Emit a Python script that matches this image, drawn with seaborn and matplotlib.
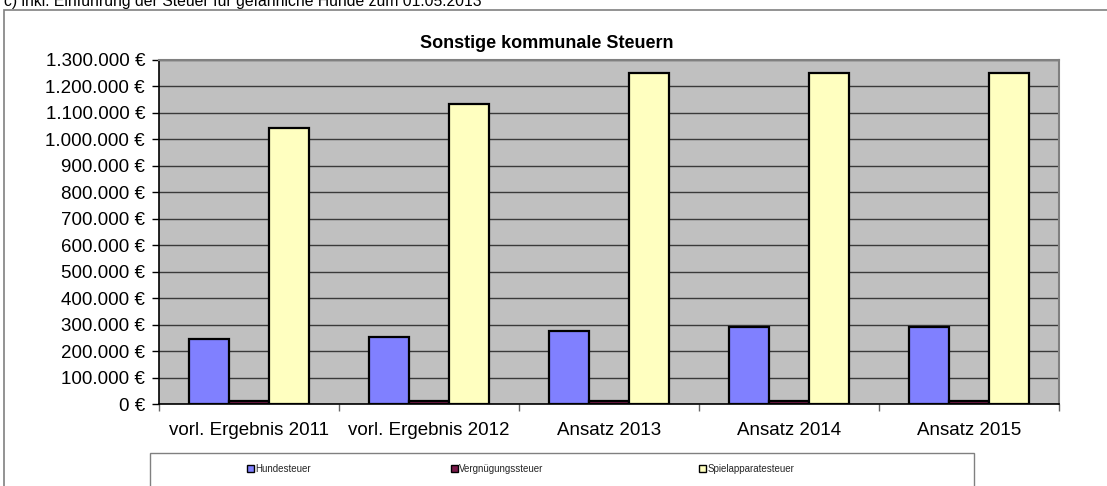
import matplotlib
matplotlib.use("Agg")
import matplotlib.pyplot as plt
from matplotlib.patches import Patch, Rectangle
from matplotlib.ticker import FuncFormatter, MultipleLocator, FixedLocator
import seaborn as sns
import pandas as pd
import numpy as np

# ---- data ----
categories = ["vorl. Ergebnis 2011", "vorl. Ergebnis 2012", "Ansatz 2013", "Ansatz 2014", "Ansatz 2015"]
series_names = ["Hundesteuer", "Vergnügungssteuer", "Spielapparatesteuer"]
hundesteuer = [245000, 252000, 275000, 290000, 290000]
vergnuegungssteuer = [10000, 10000, 10000, 10000, 10000]
spielapparatesteuer = [1042000, 1133000, 1250000, 1250000, 1250000]
colors = ["#8080FF", "#7A1A4A", "#FFFFC0"]
title = "Sonstige kommunale Steuern"
footnote = "c) inkl. Einführung der Steuer für gefährliche Hunde zum 01.05.2013"

df = pd.DataFrame({
    "Kategorie": categories * 3,
    "Steuer": [series_names[0]] * 5 + [series_names[1]] * 5 + [series_names[2]] * 5,
    "Wert": hundesteuer + vergnuegungssteuer + spielapparatesteuer,
})

sns.set_theme(style="white")
plt.rcParams["font.family"] = ["Liberation Sans", "DejaVu Sans"]

W, H = 1107, 486
fig = plt.figure(figsize=(W / 100, H / 100), dpi=100)
fig.patch.set_facecolor("white")

# plot area in pixel coords
L, R, T, B = 159, 1059, 60, 404
ax = fig.add_axes([L / W, (H - B) / H, (R - L) / W, (B - T) / H])
ax.set_facecolor("#C0C0C0")
ax.set_axisbelow(True)

sns.barplot(data=df, x="Kategorie", y="Wert", hue="Steuer", hue_order=series_names,
            order=categories, palette=colors, width=2 / 3, edgecolor="black",
            linewidth=1.6, saturation=1, ax=ax, legend=False)

ax.set_xlim(-0.5, len(categories) - 0.5)
ax.set_ylim(0, 1300000)
ax.yaxis.set_major_locator(MultipleLocator(100000))
ax.yaxis.set_major_formatter(FuncFormatter(lambda v, p: f"{int(round(v)):,} €".replace(",", ".")))
ax.grid(axis="y", color="#3a3a3a", linewidth=1)
ax.grid(axis="x", visible=False)
ax.set_xlabel("")
ax.set_ylabel("")

ax.xaxis.set_minor_locator(FixedLocator(np.arange(-0.5, len(categories), 1.0)))
ax.tick_params(axis="x", which="major", length=0, pad=13, labelsize=13.5, colors="black")
ax.tick_params(axis="x", which="minor", bottom=True, length=5, width=1, direction="out",
               color="#666666")
ax.tick_params(axis="y", which="major", length=5, width=1, direction="out", pad=5,
               labelsize=13.5, colors="black", left=True)
for lab in ax.get_xticklabels() + ax.get_yticklabels():
    lab.set_color("black")

for s in ["left", "bottom"]:
    ax.spines[s].set_visible(True)
    ax.spines[s].set_color("black")
    ax.spines[s].set_linewidth(1.2)
for s in ["top", "right"]:
    ax.spines[s].set_visible(True)
    ax.spines[s].set_color("#808080")
    ax.spines[s].set_linewidth(1.5)

# title
fig.text(547 / W, 1 - 44 / H, title, ha="center", va="center", fontsize=13,
         fontweight="bold", color="black")

# cropped footnote at the top (cut off in the reference as well)
fig.text(4 / W, 1 - 6 / H, footnote, ha="left", va="baseline", fontsize=11.3, color="black")

# outer chart frame (continues beyond the image on right / bottom)
fig.add_artist(Rectangle((4 / W, -0.1), 1.2, 1 - 9.5 / H + 0.1, transform=fig.transFigure,
                         fill=False, edgecolor="#808080", linewidth=1.2))

# legend box
fig.add_artist(Rectangle((150 / W, -0.1), (974 - 150) / W, (H - 453) / H + 0.1,
                         transform=fig.transFigure, fill=False, edgecolor="#808080",
                         linewidth=1.0))
legend_x = [247, 451, 699]
for name, c, lx in zip(series_names, colors, legend_x):
    h = Patch(facecolor=c, edgecolor="black", linewidth=1.0)
    fig.legend([h], [name], loc="center left", bbox_to_anchor=(lx / W, 1 - 469 / H),
               frameon=False, fontsize=7, handlelength=0.7, handleheight=0.7,
               handletextpad=0.15, borderpad=0, borderaxespad=0)

fig.savefig("out.png", dpi=100, facecolor="white")
